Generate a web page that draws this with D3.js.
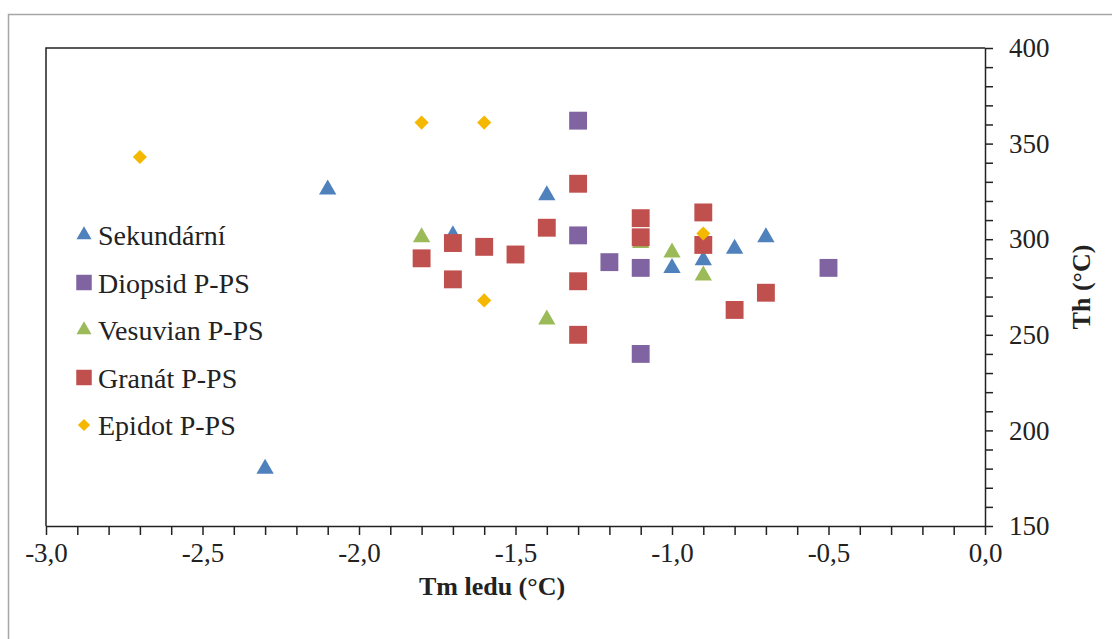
<!DOCTYPE html>
<html lang="cs">
<head>
<meta charset="UTF-8">
<title>Tm ledu vs Th</title>
<script src="https://cdn.jsdelivr.net/npm/d3@7/dist/d3.min.js"></script>
<style>
    html, body { margin: 0; padding: 0; background: #fff; }
    svg text { font-family: "Liberation Serif", "Times New Roman", Times, Tinos, "Noto Serif", "DejaVu Serif", serif; fill: #222; }
</style>
</head>
<body>
<svg id="chart" width="1112" height="639"></svg>
<script>
    // série: [Tm ledu, Th]
    var seriesNames = ["Sekundární", "Diopsid P-PS", "Vesuvian P-PS", "Granát P-PS", "Epidot P-PS"];
    var sekundarni = [[-2.3, 180], [-2.1, 326], [-1.7, 302], [-1.4, 323], [-1.0, 285], [-0.9, 289], [-0.8, 295], [-0.7, 301]];
    var diopsid = [[-1.3, 362], [-1.3, 302], [-1.2, 288], [-1.1, 285], [-1.1, 240], [-0.5, 285]];
    var vesuvian = [[-1.8, 301], [-1.4, 258], [-1.1, 298], [-1.0, 293], [-0.9, 281]];
    var granat = [[-1.8, 290], [-1.7, 298], [-1.7, 279], [-1.6, 296], [-1.5, 292], [-1.4, 306], [-1.3, 329], [-1.3, 278], [-1.3, 250],
                  [-1.1, 311], [-1.1, 301], [-0.9, 314], [-0.9, 297], [-0.8, 263], [-0.7, 272]];
    var epidot = [[-2.7, 343], [-1.8, 361], [-1.6, 361], [-1.6, 268], [-0.9, 303]];
    var xTicks = [-3.0, -2.5, -2.0, -1.5, -1.0, -0.5, 0.0];
    var yTicks = [150, 200, 250, 300, 350, 400];

    var allSeries = [sekundarni, diopsid, vesuvian, granat, epidot];
    var colors = ["#4F81BD", "#8064A2", "#9BBB59", "#C0504D", "#F5B800"];
    var shapes = [d3.symbolTriangle, d3.symbolSquare, d3.symbolTriangle, d3.symbolSquare, d3.symbolSquare];
    var sizes = [130, 320, 130, 320, 100];
    var angles = [0, 0, 0, 0, 45];   // epidot = čtverec otočený na kosočtverec

    var svg = d3.select("#chart");
    var mLeft = 46, mRight = 985, mTop = 48, mBottom = 526;

    // vnější rámeček
    svg.append("rect").attr("x", 8.5).attr("y", 14.5).attr("width", 1120).attr("height", 640)
        .attr("fill", "none").attr("stroke", "#a6a6a6").attr("stroke-width", 1.5);

    var x = d3.scaleLinear().domain([-3, 0]).range([mLeft, mRight]);
    var y = d3.scaleLinear().domain([150, 400]).range([mBottom, mTop]);
    var comma = function (d) { return d3.format(".1f")(d).replace(".", ",").replace("\u2212", "-"); };

    // rámeček grafu (horní a levá čára)
    svg.append("path").attr("d", "M" + mLeft + "," + mBottom + "V" + mTop + "H" + mRight)
        .attr("fill", "none").attr("stroke", "#222").attr("stroke-width", 1.5);

    var xAxis = svg.append("g").attr("transform", "translate(0," + mBottom + ")")
        .call(d3.axisBottom(x).tickValues(d3.range(-30, 1).map(function (d) { return d / 10; }))
            .tickSize(9).tickSizeOuter(0).tickFormat(""));
    xAxis.select(".domain").attr("stroke-width", 1.5).attr("stroke", "#222");
    svg.append("g").attr("transform", "translate(0," + mBottom + ")")
        .call(d3.axisBottom(x).tickValues(xTicks).tickSize(0).tickPadding(17).tickFormat(comma))
        .call(function (g) { g.select(".domain").remove(); })
        .selectAll("text").attr("font-size", 27).attr("fill", "#222");

    var yAxis = svg.append("g").attr("transform", "translate(" + mRight + ",0)")
        .call(d3.axisRight(y).tickValues(d3.range(150, 401, 10)).tickSize(8).tickSizeOuter(0).tickFormat(""));
    yAxis.select(".domain").attr("stroke-width", 1.5).attr("stroke", "#222");
    svg.append("g").attr("transform", "translate(" + mRight + ",0)")
        .call(d3.axisRight(y).tickValues(yTicks).tickSize(0).tickPadding(24).tickFormat(d3.format("d")))
        .call(function (g) { g.select(".domain").remove(); })
        .selectAll("text").attr("font-size", 27).attr("fill", "#222");
    svg.selectAll(".tick line").attr("stroke", "#222").attr("stroke-width", 1.5);

    // body
    allSeries.forEach(function (data, i) {
        svg.append("g").selectAll("path").data(data).enter().append("path")
            .attr("transform", function (d) { return "translate(" + x(d[0]) + "," + y(d[1]) + ") rotate(" + angles[i] + ")"; })
            .attr("d", d3.symbol().type(shapes[i]).size(sizes[i]))
            .attr("fill", colors[i]);
    });

    // legenda
    var legend = svg.append("g").attr("transform", "translate(84,235)");
    seriesNames.forEach(function (name, i) {
        var row = legend.append("g").attr("transform", "translate(0," + (i * 47.5) + ")");
        row.append("path").attr("d", d3.symbol().type(shapes[i]).size(sizes[i] * 0.75))
            .attr("transform", "rotate(" + angles[i] + ")").attr("fill", colors[i]);
        row.append("text").attr("x", 14).attr("y", 10).attr("font-size", 28).text(name);
    });

    // popisky os
    svg.append("text").attr("x", 492).attr("y", 595).attr("text-anchor", "middle")
        .attr("font-size", 26).attr("font-weight", "bold").text("Tm ledu (°C)");
    svg.append("text").attr("transform", "translate(1090," + ((mTop + mBottom) / 2) + ") rotate(-90)")
        .attr("text-anchor", "middle").attr("font-size", 26).attr("font-weight", "bold").text("Th (°C)");
</script>
</body>
</html>
